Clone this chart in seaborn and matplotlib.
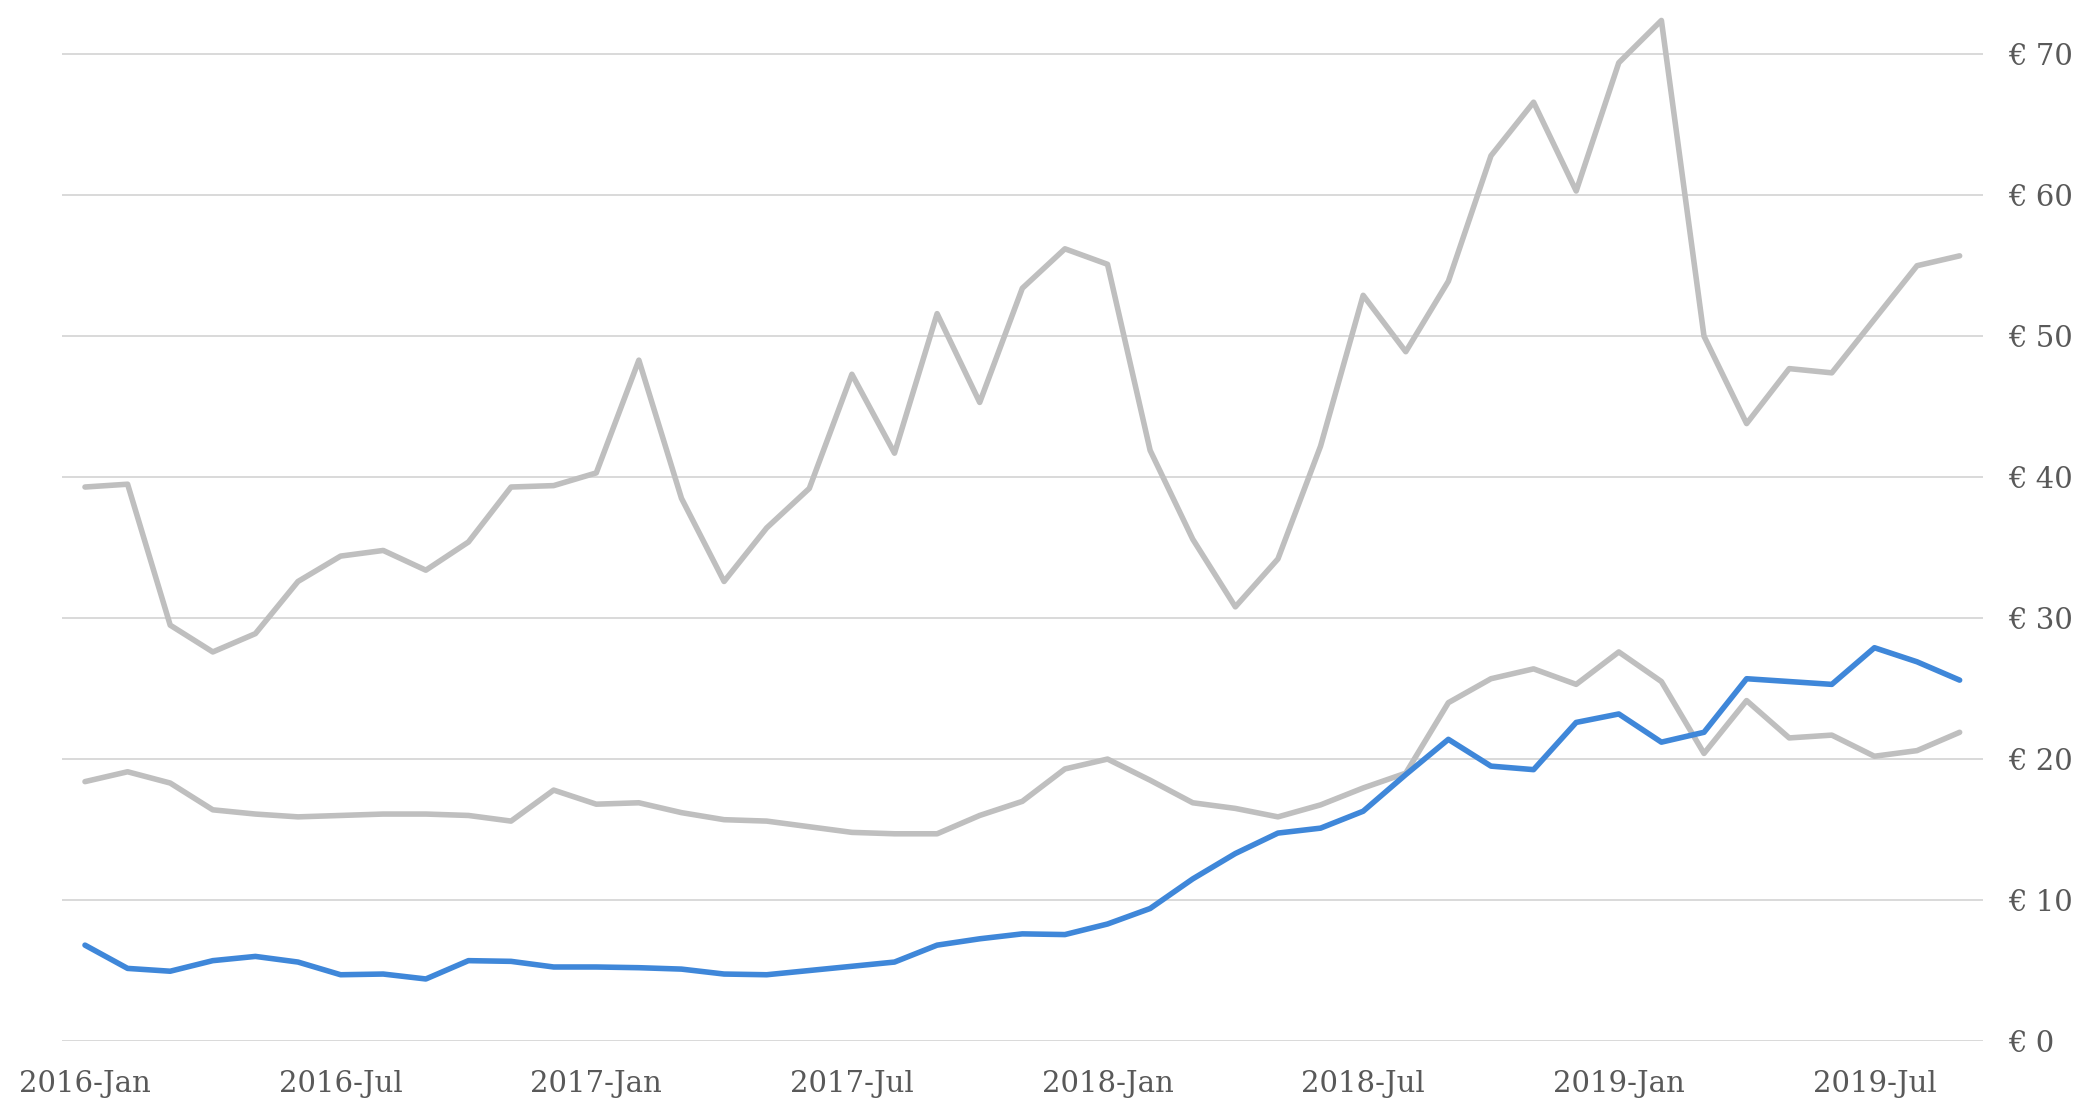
import numpy as np
import pandas as pd
import matplotlib
matplotlib.use("Agg")
import matplotlib.pyplot as plt
import seaborn as sns

# monthly values, 2016-Jan .. 2019-Sep
high = [39.3, 39.5, 29.5, 27.6, 28.9, 32.6, 34.4, 34.8, 33.4, 35.4,
        39.3, 39.4, 40.3, 48.3, 38.5, 32.6, 36.4, 39.2, 47.3, 41.7,
        51.6, 45.3, 53.4, 56.2, 55.1, 41.9, 35.6, 30.8, 34.2, 42.2,
        52.9, 48.9, 53.9, 62.8, 66.6, 60.3, 69.4, 72.4, 50.0, 43.8,
        47.7, 47.4, 51.2, 55.0, 55.7]
mid = [18.4, 19.1, 18.3, 16.4, 16.1, 15.9, 16.0, 16.1, 16.1, 16.0,
       15.6, 17.8, 16.8, 16.9, 16.2, 15.7, 15.6, 15.2, 14.8, 14.7,
       14.7, 16.0, 17.0, 19.3, 20.0, 18.5, 16.9, 16.5, 15.9, 16.75,
       17.95, 19.0, 24.0, 25.7, 26.4, 25.3, 27.6, 25.5, 20.4, 24.15,
       21.5, 21.7, 20.2, 20.6, 21.9]
blue = [6.8, 5.15, 4.95, 5.7, 6.0, 5.6, 4.7, 4.75, 4.4, 5.7,
        5.65, 5.25, 5.25, 5.2, 5.1, 4.75, 4.7, 5.0, 5.3, 5.6,
        6.8, 7.25, 7.6, 7.55, 8.3, 9.4, 11.5, 13.3, 14.75, 15.1,
        16.3, 18.9, 21.4, 19.5, 19.25, 22.6, 23.2, 21.2, 21.9, 25.7,
        25.5, 25.3, 27.9, 26.9, 25.6]
tick_labels = ["2016-Jan", "2016-Jul", "2017-Jan", "2017-Jul",
               "2018-Jan", "2018-Jul", "2019-Jan", "2019-Jul"]
y_ticks = [0, 10, 20, 30, 40, 50, 60, 70]

n = len(blue)
df = pd.DataFrame({
    "idx": np.tile(np.arange(n), 3),
    "value": high + mid + blue,
    "series": ["high"] * n + ["mid"] * n + ["blue"] * n,
})

sns.set_style("white")
plt.rcParams["font.family"] = ["DejaVu Serif"]

fig = plt.figure(figsize=(20.8, 11.01), dpi=100)
ax = fig.add_axes([0.0298, 0.0545, 0.9236, 0.9455])

sns.lineplot(data=df, x="idx", y="value", hue="series",
             hue_order=["high", "mid", "blue"],
             palette={"high": "#bfbfbf", "mid": "#bfbfbf", "blue": "#3f87d9"},
             linewidth=4.0, legend=False, ax=ax,
             solid_joinstyle="round", solid_capstyle="round", clip_on=False)

ax.set_xlim(-0.54, 44.55)
ax.set_ylim(0, 73.85)
ax.set_xticks(np.arange(0, n, 6))
ax.set_xticklabels(tick_labels)
ax.set_yticks(y_ticks)
ax.set_yticklabels(["€ %d" % v for v in y_ticks])
ax.yaxis.tick_right()
ax.grid(axis="y", color="#d9d9d9", linewidth=1.4)
ax.set_axisbelow(True)
for s in ax.spines.values():
    s.set_visible(False)
ax.tick_params(axis="both", length=0, labelsize=21, colors="#595959")
ax.tick_params(axis="y", pad=18)
ax.tick_params(axis="x", pad=21)
ax.set_xlabel("")
ax.set_ylabel("")

fig.savefig("out.png", dpi=100)
